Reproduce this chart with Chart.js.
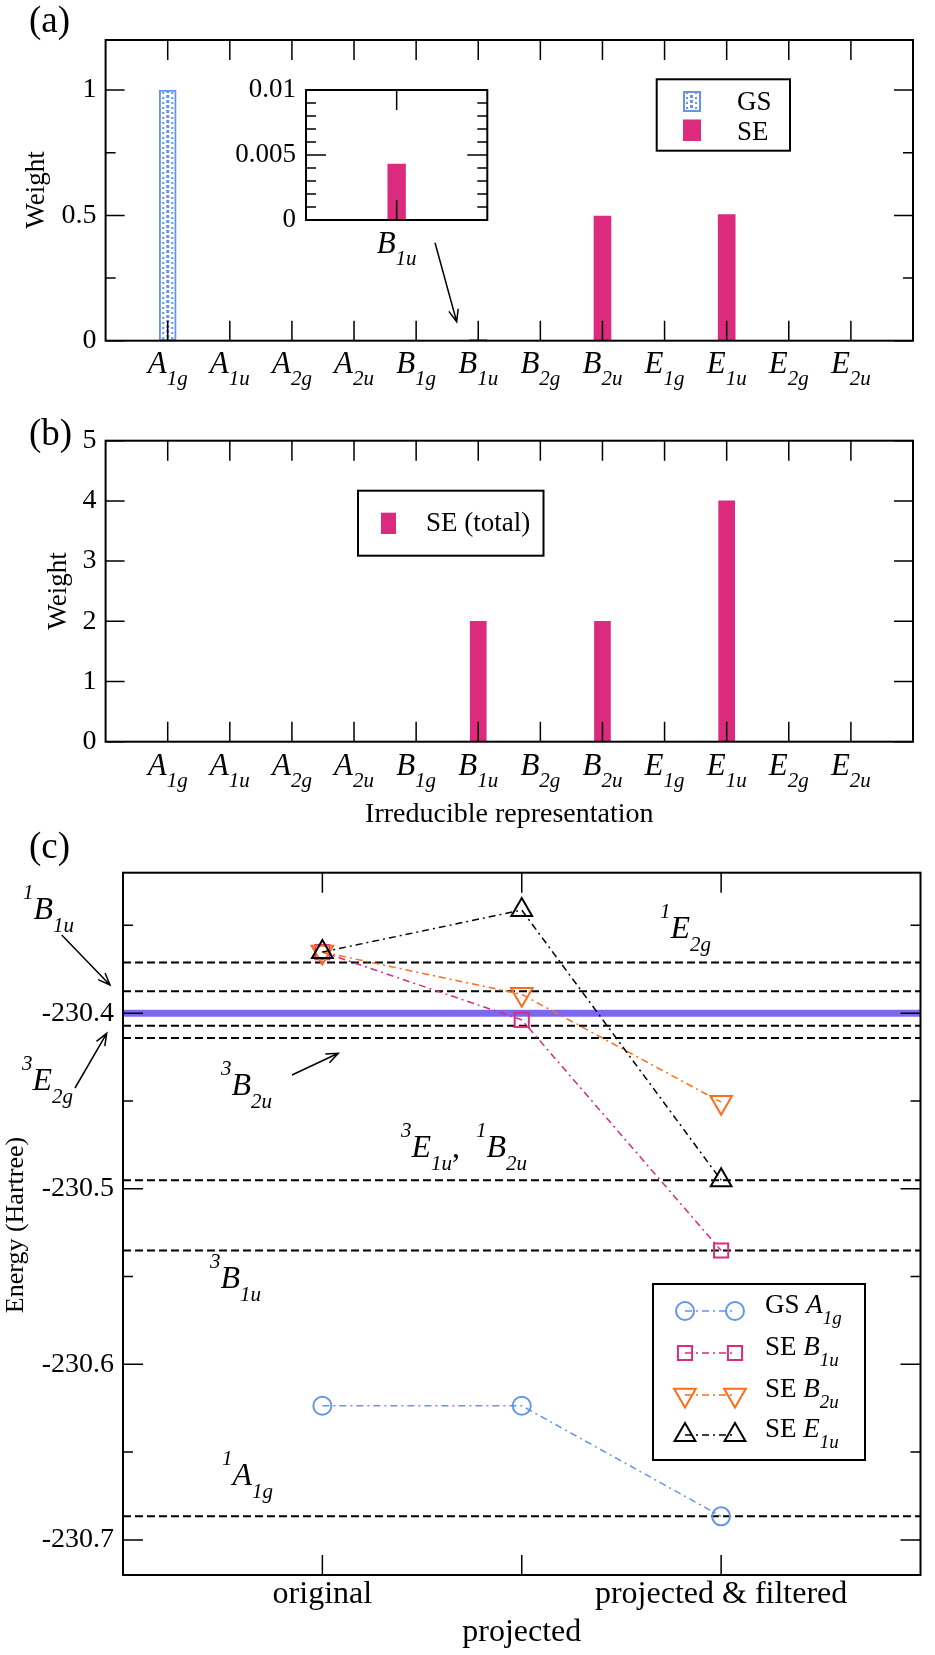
<!DOCTYPE html>
<html>
<head>
<meta charset="utf-8">
<script src="https://cdn.jsdelivr.net/npm/chart.js@4.4.1/dist/chart.umd.min.js"></script>
<style>
  body { margin: 0; background: #fff; }
  #page { position: relative; width: 935px; height: 1655px; }
  canvas { position: absolute; left: 0; }
</style>
</head>
<body>
<div id="page">
  <canvas id="panel-a" width="935" height="395" style="top:0"></canvas>
  <canvas id="panel-a-inset" width="310" height="215" style="left:200px;top:60px"></canvas>
  <canvas id="panel-b" width="935" height="435" style="top:395px"></canvas>
  <canvas id="panel-c" width="935" height="835" style="top:820px"></canvas>
</div>
<script>
// ---- data: panels (a) and (b) ----
const irrepLetters = ['A', 'A', 'A', 'A', 'B', 'B', 'B', 'B', 'E', 'E', 'E', 'E'];
const irrepSubs = ['1g', '1u', '2g', '2u', '1g', '1u', '2g', '2u', '1g', '1u', '2g', '2u'];
const gsWeight = [1, 0, 0, 0, 0, 0, 0, 0, 0, 0, 0, 0];
const seWeight = [0, 0, 0, 0, 0, 0.0043, 0, 0.497, 0, 0.503, 0, 0];
const seTotalWeight = [0, 0, 0, 0, 0, 2, 0, 2, 0, 4, 0, 0];
const weightTicksA = [0, 0.5, 1];
const weightMinorA = [0.25, 0.75];
const insetTicks = [0, 0.005, 0.01];
const insetMinor = [0.001, 0.002, 0.003, 0.004, 0.006, 0.007, 0.008, 0.009];
const weightTicksB = [0, 1, 2, 3, 4, 5];

// ---- data: panel (c) ----
const stages = ['original', 'projected', 'projected & filtered'];
const energyGS_A1g = [-230.6236, -230.6236, -230.6866];
const energySE_B1u = [-230.3652, -230.4038, -230.5352];
const energySE_B2u = [-230.3652, -230.3893, -230.4507];
const energySE_E1u = [-230.3652, -230.3413, -230.4951];
const referenceLevels = [-230.3711, -230.3875, -230.4072, -230.4141, -230.4951, -230.5352, -230.6866];
const highlightLevel = -230.4;
const energyTicks = [-230.7, -230.6, -230.5, -230.4];
const energyMinor = [-230.65, -230.55, -230.45, -230.35];

const SERIF = '"Liberation Serif", "Times New Roman", serif';
const BLUE = '#6495ED', MAGENTA = '#DC2A7F', ORANGE = '#FF6C17', PURPLE = '#7B68EE';

Chart.defaults.font.family = SERIF;
Chart.defaults.color = '#000';
Chart.defaults.animation = false;
Chart.defaults.events = [];
Chart.defaults.plugins.legend.display = false;
Chart.defaults.plugins.tooltip.enabled = false;

// ---- drawing helpers ----
function text(ctx, str, x, y, size, align) {
  ctx.font = size + 'px ' + SERIF;
  ctx.fillStyle = '#000';
  ctx.textAlign = align || 'left';
  ctx.textBaseline = 'alphabetic';
  ctx.fillText(str, x, y);
}

function vtext(ctx, str, x, y, size) {
  ctx.save();
  ctx.translate(x, y);
  ctx.rotate(-Math.PI / 2);
  ctx.font = size + 'px ' + SERIF;
  ctx.fillStyle = '#000';
  ctx.textAlign = 'center';
  ctx.textBaseline = 'middle';
  ctx.fillText(str, 0, 0);
  ctx.restore();
}

// parts: [text, role], role = 'it' | 'rm' | 'sub' | 'sup'
function rich(ctx, x, y, parts, o) {
  o = Object.assign({size: 32, small: 21, sub: 13, sup: -20, align: 'left'}, o || {});
  const items = [];
  let w = 0;
  for (const [t, role] of parts) {
    const small = role === 'sub' || role === 'sup';
    const f = (role === 'rm' ? '' : 'italic ') + (small ? o.small : o.size) + 'px ' + SERIF;
    ctx.font = f;
    items.push({t, f, dx: w, dy: role === 'sub' ? o.sub : role === 'sup' ? o.sup : 0});
    w += ctx.measureText(t).width;
  }
  const x0 = o.align === 'center' ? x - w / 2 : x;
  ctx.fillStyle = '#000';
  ctx.textAlign = 'left';
  ctx.textBaseline = 'alphabetic';
  for (const it of items) {
    ctx.font = it.f;
    ctx.fillText(it.t, x0 + it.dx, y + it.dy);
  }
}

function arrow(ctx, x1, y1, x2, y2) {
  const a = Math.atan2(y2 - y1, x2 - x1), h = 13, s = 0.38;
  ctx.save();
  ctx.strokeStyle = '#000';
  ctx.lineWidth = 1.5;
  ctx.beginPath();
  ctx.moveTo(x1, y1);
  ctx.lineTo(x2, y2);
  ctx.moveTo(x2 - h * Math.cos(a - s), y2 - h * Math.sin(a - s));
  ctx.lineTo(x2, y2);
  ctx.lineTo(x2 - h * Math.cos(a + s), y2 - h * Math.sin(a + s));
  ctx.stroke();
  ctx.restore();
}

function marker(ctx, style, x, y, r, color) {
  ctx.save();
  ctx.strokeStyle = color;
  ctx.lineWidth = 2;
  ctx.beginPath();
  if (style === 'circle') {
    ctx.arc(x, y, r, 0, Math.PI * 2);
  } else if (style === 'rect') {
    const h = r * Math.SQRT1_2;
    ctx.rect(x - h, y - h, 2 * h, 2 * h);
  } else {
    const d = style === 'down' ? -1 : 1;
    ctx.moveTo(x, y - d * r);
    ctx.lineTo(x + 0.866 * r, y + d * 0.5 * r);
    ctx.lineTo(x - 0.866 * r, y + d * 0.5 * r);
    ctx.closePath();
  }
  ctx.stroke();
  ctx.restore();
}

// dotted fill of the GS bar, aligned to the bar's left edge
function gsPattern(ctx, left) {
  const tile = document.createElement('canvas');
  tile.width = 17;
  tile.height = 5;
  const t = tile.getContext('2d');
  t.fillStyle = '#fff';
  t.fillRect(0, 0, 17, 5);
  t.fillStyle = BLUE;
  t.fillRect(7, 0, 3, 3);
  t.fillRect(3, 2, 2, 2);
  t.fillRect(12, 2, 2, 2);
  const p = ctx.createPattern(tile, 'repeat');
  p.setTransform(new DOMMatrix().translate(left, 0));
  return p;
}

function frameAndTicks(chart, spec) {
  const {ctx, chartArea: a, scales} = chart;
  const xs = scales.x, ys = scales.y;
  ctx.save();
  ctx.strokeStyle = '#000';
  ctx.lineWidth = 1.5;
  ctx.beginPath();
  for (const v of spec.x || []) {
    const p = xs.getPixelForValue(v);
    ctx.moveTo(p, a.bottom); ctx.lineTo(p, a.bottom - spec.xLen);
    ctx.moveTo(p, a.top); ctx.lineTo(p, a.top + spec.xLen);
  }
  const yt = (vals, len) => {
    for (const v of vals) {
      const p = ys.getPixelForValue(v);
      ctx.moveTo(a.left, p); ctx.lineTo(a.left + len, p);
      ctx.moveTo(a.right, p); ctx.lineTo(a.right - len, p);
    }
  };
  yt(spec.yMajor || [], spec.majLen);
  yt(spec.yMinor || [], spec.minLen);
  ctx.stroke();
  ctx.lineWidth = 2;
  ctx.strokeRect(a.left, a.top, a.right - a.left, a.bottom - a.top);
  ctx.restore();
}

// draws frame/ticks, then page-positioned decorations
function decor(id, off, spec, extra) {
  return {
    id,
    afterDraw(chart) {
      frameAndTicks(chart, spec);
      const ctx = chart.ctx;
      ctx.save();
      ctx.translate(-off.left, -off.top);
      extra(chart, ctx, off);
      ctx.restore();
    }
  };
}

const noGrid = {display: false, drawTicks: false};
const categoryPos = irrepLetters.map((_, i) => i + 1);

function irrepLabels(chart, ctx, baseline) {
  irrepLetters.forEach((L, i) => {
    rich(ctx, chart.scales.x.getPixelForValue(i + 1), baseline,
      [[L, 'it'], [irrepSubs[i], 'sub']], {size: 31, small: 21, sub: 12, align: 'center'});
  });
}

// ---- panel (a) ----
new Chart(document.getElementById('panel-a'), {
  type: 'bar',
  data: {
    datasets: [
      {
        label: 'GS',
        data: categoryPos.map((x, i) => ({x, y: gsWeight[i]})),
        backgroundColor: c => c.type === 'data'
          ? gsPattern(c.chart.ctx, c.chart.scales.x.getPixelForValue(c.parsed.x) - 8.5)
          : BLUE,
        borderColor: BLUE,
        borderWidth: 2,
        borderSkipped: false,
        barThickness: 17,
        grouped: false
      },
      {
        label: 'SE',
        data: categoryPos.map((x, i) => ({x, y: seWeight[i]})),
        backgroundColor: MAGENTA,
        barThickness: 17,
        grouped: false
      }
    ]
  },
  options: {
    responsive: false,
    layout: {padding: {left: 0, top: 40, right: 22, bottom: 0}},
    scales: {
      x: {
        type: 'linear', min: 0, max: 13, offset: false,
        grid: noGrid, border: {display: false}, ticks: {display: false},
        afterFit: s => { s.height = 54.3; }
      },
      y: {
        min: 0, max: 1.2,
        grid: noGrid, border: {display: false},
        ticks: {font: {size: 28}, padding: 9, includeBounds: false, callback: v => String(+v.toFixed(3))},
        afterBuildTicks: s => { s.ticks = weightTicksA.map(v => ({value: v})); },
        afterFit: s => { s.width = 105.6; }
      }
    }
  },
  plugins: [decor('aDecor', {left: 0, top: 0},
    {x: categoryPos, xLen: 20, yMajor: weightTicksA, yMinor: weightMinorA, majLen: 19, minLen: 10},
    (chart, ctx) => {
      text(ctx, '(a)', 29, 32, 37);
      vtext(ctx, 'Weight', 36.5, 190, 27);
      irrepLabels(chart, ctx, 373);
      // legend
      ctx.lineWidth = 2;
      ctx.strokeStyle = '#000';
      ctx.strokeRect(656.7, 79.3, 133.3, 71.4);
      ctx.fillStyle = gsPattern(ctx, 683);
      ctx.fillRect(683, 91, 18, 21);
      ctx.strokeStyle = BLUE;
      ctx.strokeRect(684, 92, 16, 19);
      ctx.fillStyle = MAGENTA;
      ctx.fillRect(683, 119.5, 18, 21.5);
      text(ctx, 'GS', 737, 110, 27);
      text(ctx, 'SE', 737, 140, 27);
      arrow(ctx, 435, 242.7, 456.7, 321.7);
    })]
});

// ---- panel (a) inset ----
new Chart(document.getElementById('panel-a-inset'), {
  type: 'bar',
  data: {
    datasets: [{
      label: 'SE',
      data: [{x: 1, y: seWeight[5]}],
      backgroundColor: MAGENTA,
      barThickness: 17.7,
      grouped: false
    }]
  },
  options: {
    responsive: false,
    layout: {padding: {left: 0, top: 30, right: 22.7, bottom: 0}},
    scales: {
      x: {
        type: 'linear', min: 0, max: 2, offset: false,
        grid: noGrid, border: {display: false}, ticks: {display: false},
        afterFit: s => { s.height = 55; }
      },
      y: {
        min: 0, max: 0.01,
        grid: noGrid, border: {display: false},
        ticks: {font: {size: 27}, padding: 10, includeBounds: false, callback: v => String(+v.toFixed(4))},
        afterBuildTicks: s => { s.ticks = insetTicks.map(v => ({value: v})); },
        afterFit: s => { s.width = 106; }
      }
    }
  },
  plugins: [decor('insetDecor', {left: 200, top: 60},
    {x: [1], xLen: 20, yMajor: [0.005], yMinor: insetMinor, majLen: 20, minLen: 10},
    (chart, ctx, off) => {
      rich(ctx, chart.scales.x.getPixelForValue(1) + off.left, 253,
        [[irrepLetters[5], 'it'], [irrepSubs[5], 'sub']], {size: 31, small: 21, sub: 12, align: 'center'});
    })]
});

// ---- panel (b) ----
new Chart(document.getElementById('panel-b'), {
  type: 'bar',
  data: {
    datasets: [{
      label: 'SE (total)',
      data: categoryPos.map((x, i) => ({x, y: seTotalWeight[i]})),
      backgroundColor: MAGENTA,
      barThickness: 16,
      grouped: false
    }]
  },
  options: {
    responsive: false,
    layout: {padding: {left: 0, top: 45.7, right: 22, bottom: 0}},
    scales: {
      x: {
        type: 'linear', min: 0, max: 13, offset: false,
        grid: noGrid, border: {display: false}, ticks: {display: false},
        afterFit: s => { s.height = 88.3; }
      },
      y: {
        min: 0, max: 5,
        grid: noGrid, border: {display: false},
        ticks: {font: {size: 28}, padding: 9, includeBounds: false},
        afterBuildTicks: s => { s.ticks = weightTicksB.map(v => ({value: v})); },
        afterFit: s => { s.width = 105.6; }
      }
    }
  },
  plugins: [decor('bDecor', {left: 0, top: 395},
    {x: categoryPos, xLen: 20, yMajor: weightTicksB, majLen: 19},
    (chart, ctx) => {
      const a = chart.chartArea;
      text(ctx, '(b)', 29, 445, 37);
      vtext(ctx, 'Weight', 58.5, 591, 27);
      irrepLabels(chart, ctx, 775);
      text(ctx, 'Irreducible representation', (a.left + a.right) / 2, 822, 28, 'center');
      ctx.lineWidth = 2;
      ctx.strokeStyle = '#000';
      ctx.strokeRect(358, 490.7, 185.5, 65);
      ctx.fillStyle = MAGENTA;
      ctx.fillRect(381, 512.7, 15, 21.3);
      text(ctx, 'SE (total)', 426, 531, 27);
    })]
});

// ---- panel (c) ----
const seriesC = [
  {name: 'GS', letter: 'A', sub: '1g', values: energyGS_A1g, color: BLUE, style: 'circle', r: 9, order: 4},
  {name: 'SE', letter: 'B', sub: '1u', values: energySE_B1u, color: MAGENTA, style: 'rect', r: 10, order: 3},
  {name: 'SE', letter: 'B', sub: '2u', values: energySE_B2u, color: ORANGE, style: 'down', r: 12.5, order: 2},
  {name: 'SE', letter: 'E', sub: '1u', values: energySE_E1u, color: '#000', style: 'up', r: 12, order: 1}
];
const SERIES_DASH = [7, 4, 2, 4];

const datasetsC = [];
referenceLevels.forEach(v => datasetsC.push({
  data: [{x: 0, y: v}, {x: 4, y: v}],
  borderColor: '#000', borderWidth: 2, borderDash: [8, 4], pointRadius: 0, order: 6
}));
datasetsC.push({
  data: [{x: 0, y: highlightLevel}, {x: 4, y: highlightLevel}],
  borderColor: PURPLE, borderWidth: 7, pointRadius: 0, order: 5
});
seriesC.forEach(s => datasetsC.push({
  label: s.name + ' ' + s.letter + s.sub,
  data: s.values.map((y, i) => ({x: i + 1, y})),
  borderColor: s.color,
  borderWidth: 1.5,
  borderDash: SERIES_DASH,
  pointStyle: s.style === 'circle' ? 'circle' : s.style === 'rect' ? 'rect' : 'triangle',
  pointRotation: s.style === 'down' ? 180 : 0,
  pointRadius: s.r,
  pointBorderWidth: 2,
  pointBorderColor: s.color,
  pointBackgroundColor: 'rgba(0,0,0,0)',
  order: s.order
}));

const stateLabels = [
  {x: 23, y: 919, parts: [['1', 'sup'], ['B', 'it'], ['1u', 'sub']]},
  {x: 22, y: 1090, parts: [['3', 'sup'], ['E', 'it'], ['2g', 'sub']]},
  {x: 221, y: 1095, parts: [['3', 'sup'], ['B', 'it'], ['2u', 'sub']]},
  {x: 660, y: 938, parts: [['1', 'sup'], ['E', 'it'], ['2g', 'sub']]},
  {x: 401, y: 1157, parts: [['3', 'sup'], ['E', 'it'], ['1u', 'sub'], [',  ', 'rm'], ['1', 'sup'], ['B', 'it'], ['2u', 'sub']]},
  {x: 210, y: 1288, parts: [['3', 'sup'], ['B', 'it'], ['1u', 'sub']]},
  {x: 222, y: 1485, parts: [['1', 'sup'], ['A', 'it'], ['1g', 'sub']]}
];

new Chart(document.getElementById('panel-c'), {
  type: 'line',
  data: {datasets: datasetsC},
  options: {
    responsive: false,
    layout: {padding: {left: 0, top: 52.7, right: 5, bottom: 0}},
    scales: {
      x: {
        type: 'linear', min: 0, max: 4,
        grid: noGrid, border: {display: false},
        ticks: {
          font: {size: 32, lineHeight: 1.2}, padding: 0, autoSkip: false, maxRotation: 0, minRotation: 0,
          callback: v => {
            const s = stages[v - 1];
            if (!s) return '';
            return v % 2 === 0 ? ['', s] : s;
          }
        },
        afterBuildTicks: s => { s.ticks = [0, 1, 2, 3, 4].map(v => ({value: v})); },
        afterFit: s => { s.height = 80; }
      },
      y: {
        min: -230.72, max: -230.32,
        grid: noGrid, border: {display: false},
        ticks: {font: {size: 28}, padding: 9, includeBounds: false, callback: v => v.toFixed(1)},
        afterBuildTicks: s => { s.ticks = energyTicks.map(v => ({value: v})); },
        afterFit: s => { s.width = 123; }
      }
    }
  },
  plugins: [decor('cDecor', {left: 0, top: 820},
    {x: [1, 2, 3], xLen: 20, yMajor: energyTicks, yMinor: energyMinor, majLen: 20, minLen: 10},
    (chart, ctx) => {
      text(ctx, '(c)', 29, 858, 37);
      vtext(ctx, 'Energy (Hartree)', 16.5, 1225, 26);
      stateLabels.forEach(l => rich(ctx, l.x, l.y, l.parts, {size: 32, small: 21, sub: 13, sup: -20}));
      arrow(ctx, 61.7, 935, 110, 985);
      arrow(ctx, 75, 1088, 106.7, 1033.3);
      arrow(ctx, 292, 1075, 338.3, 1053.3);
      // legend
      ctx.lineWidth = 2;
      ctx.strokeStyle = '#000';
      ctx.strokeRect(653, 1284, 212, 176);
      const baselines = [1313, 1355, 1397, 1437];
      seriesC.forEach((s, i) => {
        const yc = baselines[i] - 2;
        ctx.save();
        ctx.strokeStyle = s.color;
        ctx.lineWidth = 1.5;
        ctx.setLineDash(SERIES_DASH);
        ctx.beginPath();
        ctx.moveTo(685, yc);
        ctx.lineTo(735, yc);
        ctx.stroke();
        ctx.restore();
        marker(ctx, s.style, 685, yc, s.r, s.color);
        marker(ctx, s.style, 735, yc, s.r, s.color);
        rich(ctx, 765, baselines[i], [[s.name + ' ', 'rm'], [s.letter, 'it'], [s.sub, 'sub']],
          {size: 27, small: 19, sub: 11});
      });
    })]
});
</script>
</body>
</html>
